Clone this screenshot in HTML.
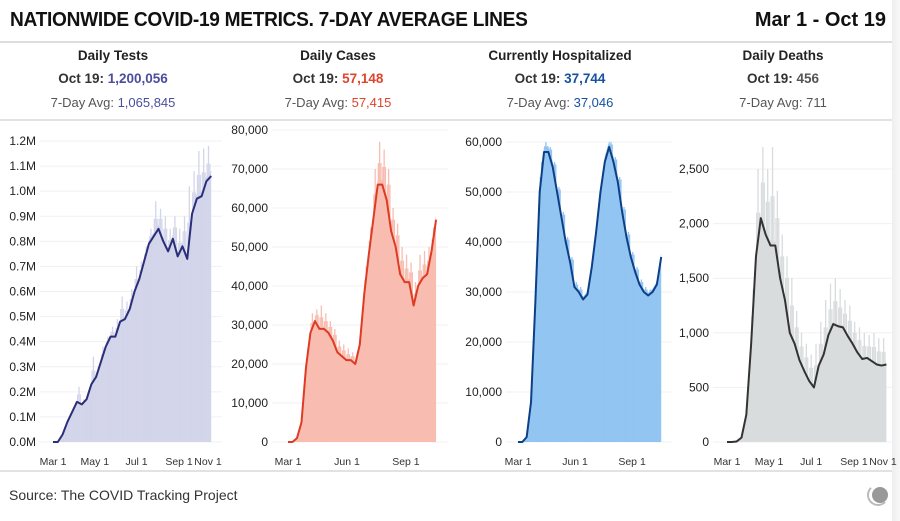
<!DOCTYPE html>
<html><head><meta charset="utf-8">
<style>
body{margin:0;width:900px;height:521px;background:#fff;font-family:"Liberation Sans",sans-serif;overflow:hidden;position:relative}
.t{position:absolute;white-space:nowrap}
</style></head>
<body>
<div class="t" style="left:10px;top:9px;font-size:20px;font-weight:bold;color:#111;letter-spacing:-0.3px;transform:scaleX(0.955);transform-origin:left top">NATIONWIDE COVID-19 METRICS. 7-DAY AVERAGE LINES</div>
<div class="t" style="right:14px;top:9px;font-size:20px;font-weight:bold;color:#111">Mar 1 - Oct 19</div>
<div style="position:absolute;left:0;top:41px;width:893px;height:2px;background:#ddd"></div>
<div style="position:absolute;left:0;top:119px;width:893px;height:2px;background:#e2e2e2"></div>
<div style="position:absolute;left:0;top:470px;width:893px;height:2px;background:#e2e2e2"></div>
<div style="position:absolute;left:892px;top:0;width:8px;height:521px;background:linear-gradient(90deg,#eee,#f8f8f8)"></div>
<div class="t" style="left:9px;top:487px;font-size:14px;color:#333">Source: The COVID Tracking Project</div>
<div style="position:absolute;left:867px;top:484px;width:22px;height:22px;border-radius:50%;border:2px solid #bbb;border-right-color:transparent;border-top-color:transparent;box-sizing:border-box"></div>
<div style="position:absolute;left:872px;top:487px;width:16px;height:16px;border-radius:50%;background:#999"></div>

<div id="stats"></div>
<svg id="chart" width="900" height="521" style="position:absolute;left:0;top:0" font-family="Liberation Sans, sans-serif"></svg>

<script>
// Weekly sample days (Mar 1 = day 0)
const weekDays = [0,7,14,21,28,35,42,49,56,63,70,77,84,91,98,105,112,119,126,133,140,147,154,161,168,175,182,189,196,203,210,217,224,231];
const testsAvg = [0,0,0.03,0.08,0.12,0.16,0.15,0.17,0.23,0.26,0.32,0.38,0.42,0.42,0.48,0.49,0.53,0.6,0.65,0.72,0.79,0.82,0.85,0.8,0.76,0.81,0.74,0.78,0.73,0.91,0.97,0.98,1.04,1.06];
const testsPeak = [0,0,0.05,0.1,0.14,0.22,0.17,0.2,0.34,0.3,0.38,0.42,0.46,0.49,0.58,0.56,0.61,0.7,0.72,0.78,0.85,0.96,0.93,0.9,0.85,0.9,0.85,0.9,1.02,1.08,1.16,1.17,1.18,1.2];
const casesAvg = [0,0,1,5,19,28,31,29,29,28,26,23,22,21,21,20,25,38,48,57,66,66,62,54,50,43,41,41,35,40,42,43,49,57];
const casesPeak = [0,0,2,8,24,33,34,35,33,31,29,26,25,24,23,22,29,45,55,70,77,75,70,60,56,50,48,46,41,48,49,50,55,68];
const hospAvg = [0,0,1,8,28,50,58,58,55,50,45,40,36,31,30,28.5,29.5,35,42,50,56,59,56,52,46,41,37,34,31.5,30,29.3,30,31.5,37];
const hospPeak = [0,0,2,10,32,56,60,59,56,51,46,41,37,32,31,29,30.5,37,44,52,58,60,57,53,47,42,38,35,32.5,31,30.5,31,33,38];
const deathsAvg = [0,0,5,40,250,900,1700,2050,1900,1800,1800,1500,1300,1000,900,750,650,560,500,700,800,980,1080,1060,1050,970,900,820,760,770,740,710,700,710];
const deathsPeak = [0,0,10,60,400,1400,2500,2700,2500,2700,2300,1900,1700,1500,1200,1000,900,800,900,1100,1300,1450,1500,1400,1300,1250,1100,1050,1000,980,1000,950,950,700];
const testsTicks = [0,0.1,0.2,0.3,0.4,0.5,0.6,0.7,0.8,0.9,1.0,1.1,1.2];
const testsTickLabels = ["0.0M","0.1M","0.2M","0.3M","0.4M","0.5M","0.6M","0.7M","0.8M","0.9M","1.0M","1.1M","1.2M"];
const casesTicks = [0,10,20,30,40,50,60,70,80];
const casesTickLabels = ["0","10,000","20,000","30,000","40,000","50,000","60,000","70,000","80,000"];
const hospTicks = [0,10,20,30,40,50,60];
const hospTickLabels = ["0","10,000","20,000","30,000","40,000","50,000","60,000"];
const deathsTicks = [0,500,1000,1500,2000,2500];
const deathsTickLabels = ["0","500","1,000","1,500","2,000","2,500"];
const xTickDays4 = [0,61,122,184,245];
const xTickLabels4 = ["Mar 1","May 1","Jul 1","Sep 1","Nov 1"];
const xTickDays3 = [0,92,184];
const xTickLabels3 = ["Mar 1","Jun 1","Sep 1"];
const statNames = ["Daily Tests","Daily Cases","Currently Hospitalized","Daily Deaths"];
const statToday = ["1,200,056","57,148","37,744","456"];
const statAvg = ["1,065,845","57,415","37,046","711"];

const statCenters=[113,338,560,783];
const statColors=["#4a4e9c","#e0442d","#1652a0","#555"];
const stats=document.getElementById('stats');
statNames.forEach((n,i)=>{
  const c=statCenters[i];
  const a=document.createElement('div');a.className='t';a.style.cssText=`left:${c-100}px;width:200px;text-align:center;top:48px;font-size:13.5px;font-weight:bold;color:#222`;a.textContent=n;
  
  
  stats.appendChild(a);
  const b=document.createElement('div');b.className='t';b.style.cssText=`left:${c-100}px;width:200px;text-align:center;top:71px;font-size:13.5px;font-weight:bold;color:#333`;
  b.innerHTML=`Oct 19: <span style="color:${statColors[i]}">${statToday[i]}</span>`;
  
  
  stats.appendChild(b);
  const d=document.createElement('div');d.className='t';d.style.cssText=`left:${c-100}px;width:200px;text-align:center;top:95px;font-size:13px;color:#555`;
  d.innerHTML=`7-Day Avg: <span style="color:${statColors[i]}">${statAvg[i]}</span>`;
  
  
  stats.appendChild(d);
});

const svg=document.getElementById('chart');
const NS='http://www.w3.org/2000/svg';
function mk(t,at){const e=document.createElementNS(NS,t);for(const k in at)e.setAttribute(k,at[k]);svg.appendChild(e);return e;}

function panel(cfg){
  const x=d=>cfg.x0+d*cfg.kx;
  const y=v=>cfg.y0-(v-0)/cfg.vmax*(cfg.y0-cfg.ytop);
  cfg.ticks.forEach((t,i)=>{
    const g=mk('line',{x1:cfg.labelX+4,x2:cfg.gridEnd,y1:y(t),y2:y(t),stroke:'#f0f0f0','stroke-width':1});
    
    
    const tx=mk('text',{x:cfg.labelX,y:y(t)+4,'text-anchor':'end','font-size':12,fill:'#222'});
    tx.textContent=cfg.tickLabels[i];
    
    
  });
  let p=`M${x(weekDays[0])},${y(0)}`;
  cfg.avg.forEach((v,i)=>p+=`L${x(weekDays[i])},${y(v*1.02)}`);
  p+=`L${x(weekDays[weekDays.length-1])},${y(0)}Z`;
  const ar=mk('path',{d:p,fill:cfg.fill});
  
  
  cfg.peak.forEach((v,i)=>{
    for(let k=0;k<3;k++){
      const dd=weekDays[i]+k*2+1; if(dd>231) break;
      const vv=k===1?v:(v+cfg.avg[i])/2;
      const s=mk('line',{x1:x(dd),x2:x(dd),y1:y(0),y2:y(vv),stroke:cfg.fill,'stroke-width':1.3});
      
      
    }
  });
  let lp='';
  cfg.avg.forEach((v,i)=>lp+=(i?'L':'M')+x(weekDays[i])+','+y(v));
  const ln=mk('path',{d:lp,fill:'none',stroke:cfg.line,'stroke-width':2,'stroke-linejoin':'round'});
  
  
  cfg.xDays.forEach((d,i)=>{
    const xx=Math.min(x(d),cfg.xMaxLabel);
    const tx=mk('text',{x:xx,y:465,'text-anchor':'middle','font-size':10.5,fill:'#333'});
    tx.textContent=cfg.xLabels[i];
    
    
  });
}
panel({x0:53,kx:0.685,y0:442,ytop:141,vmax:1.2,ticks:testsTicks,tickLabels:testsTickLabels,labelX:36,gridEnd:222,avg:testsAvg,peak:testsPeak,fill:'#d3d5ea',line:'#2b2e78',xDays:xTickDays4,xLabels:xTickLabels4,xMaxLabel:208});
panel({x0:288,kx:0.641,y0:442,ytop:130,vmax:80,ticks:casesTicks,tickLabels:casesTickLabels,labelX:268,gridEnd:448,avg:casesAvg,peak:casesPeak,fill:'#f8bdb0',line:'#dd3b24',xDays:xTickDays3,xLabels:xTickLabels3,xMaxLabel:440});
panel({x0:518,kx:0.62,y0:442,ytop:142,vmax:60,ticks:hospTicks,tickLabels:hospTickLabels,labelX:502,gridEnd:672,avg:hospAvg,peak:hospPeak,fill:'#92c5f1',line:'#0c3f86',xDays:xTickDays3,xLabels:xTickLabels3,xMaxLabel:665});
panel({x0:727,kx:0.69,y0:442,ytop:169,vmax:2500,ticks:deathsTicks,tickLabels:deathsTickLabels,labelX:709,gridEnd:892,avg:deathsAvg,peak:deathsPeak,fill:'#d8dcdd',line:'#333',xDays:xTickDays4,xLabels:xTickLabels4,xMaxLabel:883});
</script>
</body></html>
